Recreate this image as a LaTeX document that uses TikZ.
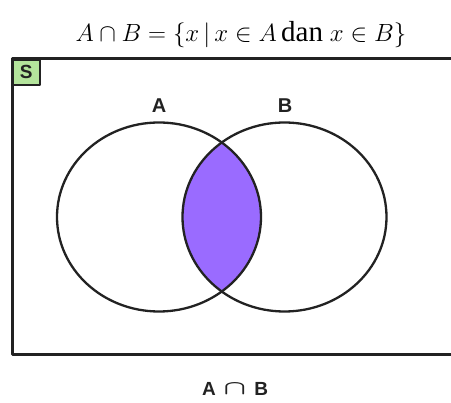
\documentclass[tikz,border=0pt]{standalone}
\usepackage{graphicx}
\usepackage{fontspec}
\setmainfont{Liberation Serif}
\newfontfamily\vennfont{Liberation Sans}
\usetikzlibrary{positioning}
\definecolor{VennPurple}{HTML}{9A6BFF}
\definecolor{VennGreen}{HTML}{B4E49C}
\definecolor{VennLine}{HTML}{222222}
\newcommand{\bigcapsign}{\raisebox{1pt}{\scalebox{1.7}[1.15]{\boldmath$\cap$}}}

\begin{document}
\begin{tikzpicture}[x=1pt,y=-1pt,line cap=round,line join=round,
    setlabel/.style={font=\vennfont\bfseries\fontsize{20}{24}\selectfont,text=VennLine,inner sep=0pt}]
  \useasboundingbox (0,0) rectangle (451,403);
  \coordinate (CA) at (159,217);\coordinate (CB) at (284.5,217);
  % universe (open to the right)
  \draw[VennLine,line width=3pt,line cap=butt] (451,59)--(12,59)--(12,355)--(451,355);
  \node[draw=VennLine,line width=1.6pt,fill=VennGreen,minimum width=27pt,minimum height=25pt,inner sep=0pt,
    anchor=north west,text=VennLine,font=\vennfont\bfseries\fontsize{19}{22}\selectfont] (S) at (12,59) {S};
  % intersection
  \begin{scope}
    \clip (CA) ellipse[x radius=102,y radius=94.5];
    \fill[VennPurple] (CB) ellipse[x radius=102,y radius=94.5];
  \end{scope}
  \draw[VennLine,line width=2.3pt] (CA) ellipse[x radius=102,y radius=94.5];
  \draw[VennLine,line width=2.3pt] (CB) ellipse[x radius=102,y radius=94.5];
  \node[setlabel] (A) at (159,106) {A};
  \node[setlabel] (B) at (285,106) {B};
  \node[setlabel,font=\vennfont\bfseries\fontsize{19}{22}\selectfont] (AB) at (235,389)
    {A\hspace{8pt}\bigcapsign\hspace{8pt}B};
  \node[font=\fontsize{29}{34}\selectfont,inner sep=0pt] (title) at (241,35)
    {$A \cap B = \{x \,|\, x \in A\,\mathrm{dan}\; x \in B\}$};
\end{tikzpicture}
\end{document}
